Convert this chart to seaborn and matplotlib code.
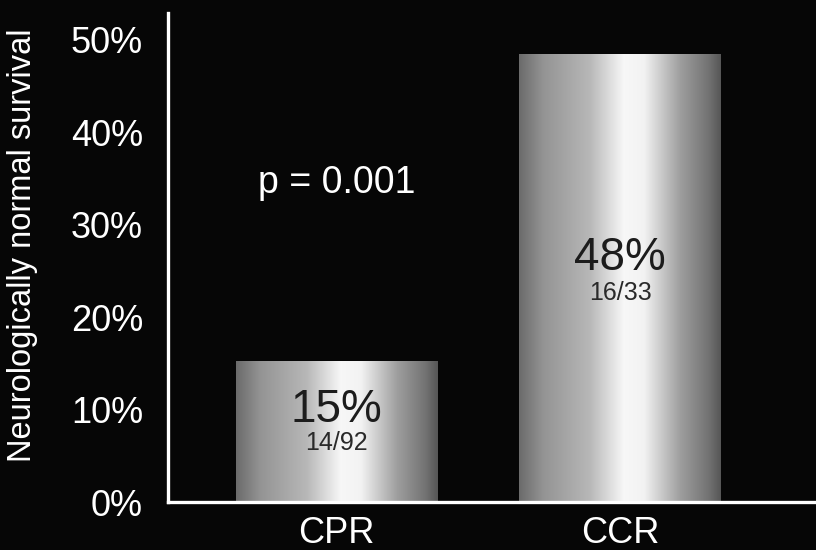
import numpy as np
import pandas as pd
import matplotlib
matplotlib.use("Agg")
import matplotlib.pyplot as plt
import seaborn as sns
from matplotlib.colors import LinearSegmentedColormap
from matplotlib.ticker import PercentFormatter

# Survival data per resuscitation protocol
groups = ["CPR", "CCR"]
survivors = [14, 16]
patients = [92, 33]
pct_labels = ["15%", "48%"]
count_labels = ["14/92", "16/33"]
p_text = "p = 0.001"
y_ticks = [0, 10, 20, 30, 40, 50]
y_label = "Neurologically normal survival"

survival = [100.0 * s / n for s, n in zip(survivors, patients)]
df = pd.DataFrame({"group": groups, "survival": survival})

sns.set_theme(style="dark")
plt.rcParams["font.family"] = ["Liberation Sans", "DejaVu Sans"]

bg = "#060606"
fig = plt.figure(figsize=(8.16, 5.5), dpi=100, facecolor=bg)
ax = fig.add_axes([168 / 816, 48 / 550, 648 / 816, 489 / 550])
ax.set_facecolor(bg)

sns.barplot(data=df, x="group", y="survival", width=0.71, ax=ax,
            color="white", edgecolor="none", linewidth=0, zorder=2)

# Metallic horizontal shading for the bars
stops = [(0.00, 0.42), (0.12, 0.58), (0.35, 0.72), (0.52, 0.97),
         (0.62, 0.95), (0.80, 0.62), (0.94, 0.45), (1.00, 0.34)]
shade = LinearSegmentedColormap.from_list(
    "metal", [(p, (g, g, g)) for p, g in stops])
ramp = np.linspace(0, 1, 256).reshape(1, -1)

xlim = (-0.594, 1.691)
ylim = (0, 52.9)
for patch in list(ax.patches):
    x0, y0 = patch.get_x(), patch.get_y()
    w, h = patch.get_width(), patch.get_height()
    im = ax.imshow(ramp, extent=[x0, x0 + w, y0, y0 + h], aspect="auto",
                   cmap=shade, vmin=0, vmax=1, zorder=3, interpolation="bicubic")
    im.set_clip_path(patch)
    patch.set_facecolor("none")

ax.set_xlim(*xlim)
ax.set_ylim(*ylim)

# Value annotations inside the bars
pct_y = [10.0, 26.4]
cnt_y = [6.4, 22.6]
for i in range(len(groups)):
    ax.text(i, pct_y[i], pct_labels[i], ha="center", va="center",
            fontsize=33, color="#1c1c1c", zorder=5)
    ax.text(i, cnt_y[i], count_labels[i], ha="center", va="center",
            fontsize=18, color="#2a2a2a", zorder=5)

ax.text(0, 34.5, p_text, ha="center", va="center", fontsize=27,
        color="white", zorder=5)

ax.set_yticks(y_ticks)
ax.yaxis.set_major_formatter(PercentFormatter(decimals=0))
ax.tick_params(axis="y", length=0, pad=18, labelsize=26, labelcolor="white")
ax.tick_params(axis="x", length=0, pad=10, labelsize=26, labelcolor="white")
ax.set_xlabel("")
ax.set_ylabel(y_label, fontsize=23.5, color="white")
ax.yaxis.set_label_coords(-0.20, 0.526)
ax.grid(False)

for side in ["top", "right"]:
    ax.spines[side].set_visible(False)
for side in ["left", "bottom"]:
    ax.spines[side].set_visible(True)
    ax.spines[side].set_color("white")
    ax.spines[side].set_linewidth(2.4)
    ax.spines[side].set_zorder(6)

fig.savefig("out.png", dpi=100, facecolor=bg)
